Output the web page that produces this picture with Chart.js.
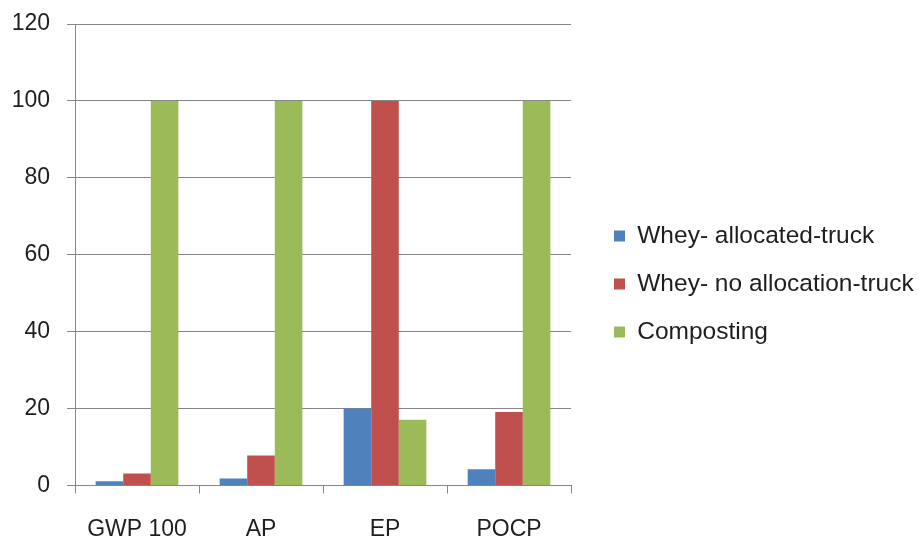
<!DOCTYPE html>
<html>
<head>
<meta charset="utf-8">
<script src="https://cdn.jsdelivr.net/npm/chart.js@4.4.1/dist/chart.umd.min.js"></script>
<style>
html,body{margin:0;padding:0;background:#fff;}
#c{display:block;}
</style>
</head>
<body>
<canvas id="c" width="919" height="539"></canvas>
<script>
const categories = ['GWP 100', 'AP', 'EP', 'POCP'];
const seriesNames = ['Whey- allocated-truck', 'Whey- no allocation-truck', 'Composting'];
const allocatedTruck = [1.1, 1.8, 20, 4.2];
const noAllocationTruck = [3.1, 7.8, 100, 19.1];
const composting = [100, 100, 17.1, 100];
const seriesColors = ['#4F81BD', '#C0504D', '#9BBB59'];
const yMin = 0, yMax = 120, yStep = 20;

const axisGray = '#868686';
const textColor = '#1e1e1e';
const fontFamily = '"Liberation Sans", Arial, sans-serif';

new Chart(document.getElementById('c'), {
  type: 'bar',
  data: {
    labels: categories,
    datasets: [
      { label: seriesNames[0], data: allocatedTruck, backgroundColor: seriesColors[0] },
      { label: seriesNames[1], data: noAllocationTruck, backgroundColor: seriesColors[1] },
      { label: seriesNames[2], data: composting, backgroundColor: seriesColors[2] }
    ]
  },
  options: {
    responsive: false,
    animation: false,
    devicePixelRatio: 1,
    datasets: { bar: { barPercentage: 1, categoryPercentage: 0.667, borderWidth: 0 } },
    layout: { padding: { left: 12, right: 0, top: 24, bottom: 0 } },
    plugins: {
      tooltip: { enabled: false },
      legend: {
        position: 'right',
        align: 'center',
        maxWidth: 328.5,
        title: { display: true, text: ' ', font: { size: 5, lineHeight: 1 }, padding: 0 },
        labels: {
          boxWidth: 11,
          boxHeight: 11,
          padding: 23.5,
          color: textColor,
          font: { family: fontFamily, size: 24.5 }
        }
      }
    },
    scales: {
      x: {
        grid: { display: true, drawOnChartArea: false, drawTicks: true, tickLength: 8, color: axisGray, offset: true },
        border: { display: true, color: axisGray, width: 1 },
        ticks: { color: textColor, padding: 25, font: { family: fontFamily, size: 23, lineHeight: 1 }, maxRotation: 0 },
        afterFit: function (s) { s.height = 53.5; s.paddingLeft = 0; s.paddingRight = 0; }
      },
      y: {
        min: yMin,
        max: yMax,
        grid: { color: axisGray, drawTicks: true, tickLength: 8 },
        border: { display: true, color: axisGray, width: 1 },
        ticks: { stepSize: yStep, color: textColor, padding: 17, font: { family: fontFamily, size: 23 } },
        afterFit: function (s) { s.width = 63; s.paddingTop = 0; s.paddingBottom = 0; }
      },
      sp: {
        type: 'linear',
        position: 'right',
        display: true,
        grid: { display: false, drawTicks: false },
        ticks: { display: false },
        border: { display: false },
        afterFit: function (s) { s.width = 19.5; s.paddingTop = 0; s.paddingBottom = 0; }
      }
    }
  }
});
</script>
</body>
</html>
